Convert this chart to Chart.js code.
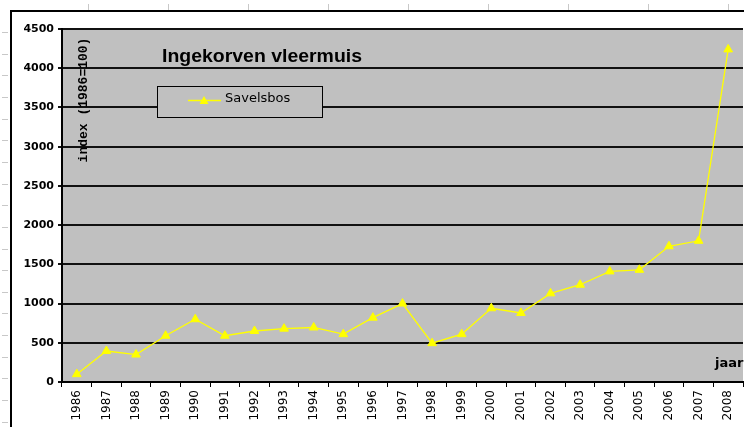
<!DOCTYPE html>
<html>
<head>
<meta charset="utf-8">
<script src="https://cdn.jsdelivr.net/npm/chart.js@4"></script>
<style>
html,body{margin:0;padding:0;background:#fff;overflow:hidden;width:744px;height:427px;}
canvas{display:block;}
</style>
</head>
<body>
<canvas id="c" width="749" height="427"></canvas>
<script>
const years = ['1986','1987','1988','1989','1990','1991','1992','1993','1994','1995','1996','1997','1998','1999','2000','2001','2002','2003','2004','2005','2006','2007','2008'];
const savelsbos = [100,395,350,590,800,590,650,680,695,610,820,1000,495,610,940,880,1130,1240,1410,1430,1730,1800,4240];
const seriesName = 'Savelsbos';
const chartTitle = 'Ingekorven vleermuis';
const yTitle = 'index (1986=100)';
const xTitle = 'jaar';

const frame = {
  id: 'frame',
  beforeDraw(chart) {
    const ctx = chart.ctx, a = chart.chartArea;
    ctx.save();
    ctx.fillStyle = '#fff';
    ctx.fillRect(0, 0, chart.width, chart.height);
    ctx.strokeStyle = '#c8c8c8';
    ctx.lineWidth = 1;
    for (let x = 88; x < chart.width; x += 80) {
      ctx.beginPath(); ctx.moveTo(x + 0.5, 4); ctx.lineTo(x + 0.5, 10); ctx.stroke();
    }
    for (let y = 32; y < chart.height; y += 21.65) {
      const yy = Math.round(y) + 0.5;
      ctx.beginPath(); ctx.moveTo(2, yy); ctx.lineTo(8, yy); ctx.stroke();
    }
    ctx.strokeStyle = '#000';
    ctx.lineWidth = 2;
    ctx.beginPath();
    ctx.moveTo(11, chart.height); ctx.lineTo(11, 11); ctx.lineTo(chart.width, 11);
    ctx.stroke();
    ctx.fillStyle = '#c0c0c0';
    ctx.fillRect(a.left, a.top, a.right - a.left, a.bottom - a.top);
    ctx.restore();
  },
  afterDraw(chart) {
    const ctx = chart.ctx;
    ctx.save();
    ctx.fillStyle = '#000';
    ctx.font = 'bold 18px "Liberation Sans", Arial, sans-serif';
    ctx.textBaseline = 'alphabetic';
    ctx.textAlign = 'left';
    const tw = ctx.measureText(chartTitle).width;
    ctx.save();
    ctx.translate(162, 62);
    ctx.scale(200 / tw, 1);
    ctx.fillText(chartTitle, 0, 0);
    ctx.restore();
    ctx.save();
    ctx.translate(87, 100);
    ctx.rotate(-Math.PI / 2);
    ctx.font = 'bold 13px "Liberation Mono", "Courier New", monospace';
    ctx.textAlign = 'center';
    ctx.fillText(yTitle, 0, 0);
    ctx.restore();
    ctx.font = 'bold 13px "DejaVu Sans", sans-serif';
    ctx.fillText(xTitle, 715, 367);
    ctx.fillStyle = '#c0c0c0';
    ctx.fillRect(157, 86, 166, 32);
    ctx.strokeStyle = '#000';
    ctx.lineWidth = 1;
    ctx.strokeRect(157.5, 86.5, 165, 31);
    const ds = chart.data.datasets[0];
    ctx.strokeStyle = ds.borderColor;
    ctx.lineWidth = 1.5;
    ctx.beginPath(); ctx.moveTo(188, 100.5); ctx.lineTo(221, 100.5); ctx.stroke();
    ctx.fillStyle = ds.backgroundColor;
    ctx.beginPath();
    ctx.moveTo(204, 96); ctx.lineTo(208.5, 104); ctx.lineTo(199.5, 104); ctx.closePath();
    ctx.fill();
    ctx.fillStyle = '#000';
    ctx.font = '13px "DejaVu Sans", sans-serif';
    ctx.textBaseline = 'middle';
    ctx.fillText(ds.label, 225, 99);
    ctx.restore();
  }
};

new Chart(document.getElementById('c'), {
  type: 'line',
  data: {
    labels: years,
    datasets: [{
      label: seriesName,
      data: savelsbos,
      borderColor: '#ffff00',
      backgroundColor: '#ffff00',
      borderWidth: 1.3,
      pointStyle: 'triangle',
      pointRadius: 5,
      pointBorderWidth: 1,
      tension: 0,
      clip: false
    }]
  },
  options: {
    responsive: false,
    devicePixelRatio: 1,
    animation: false,
    layout: { padding: { left: 12, top: 29, right: 0, bottom: 0 } },
    plugins: { legend: { display: false }, title: { display: false }, tooltip: { enabled: false } },
    scales: {
      x: {
        offset: true,
        afterFit(s) { s.height = 45; },
        grid: { display: true, drawOnChartArea: false, drawTicks: true, tickLength: 5, color: '#000', offset: true, lineWidth: 1 },
        border: { display: true, color: '#000', width: 2 },
        ticks: { minRotation: 90, maxRotation: 90, autoSkip: false, padding: 3, color: '#000', font: { family: '"DejaVu Sans", sans-serif', size: 12 } }
      },
      y: {
        min: 0, max: 4500,
        afterFit(s) { s.width = 50; },
        grid: { color: '#111', lineWidth: 2, tickLength: 4, drawTicks: true },
        border: { display: true, color: '#000', width: 2 },
        ticks: { stepSize: 500, padding: 4, color: '#000', callback: v => String(v), font: { family: '"DejaVu Sans", sans-serif', size: 11, weight: 'bold' } }
      }
    }
  },
  plugins: [frame]
});
</script>
</body>
</html>
